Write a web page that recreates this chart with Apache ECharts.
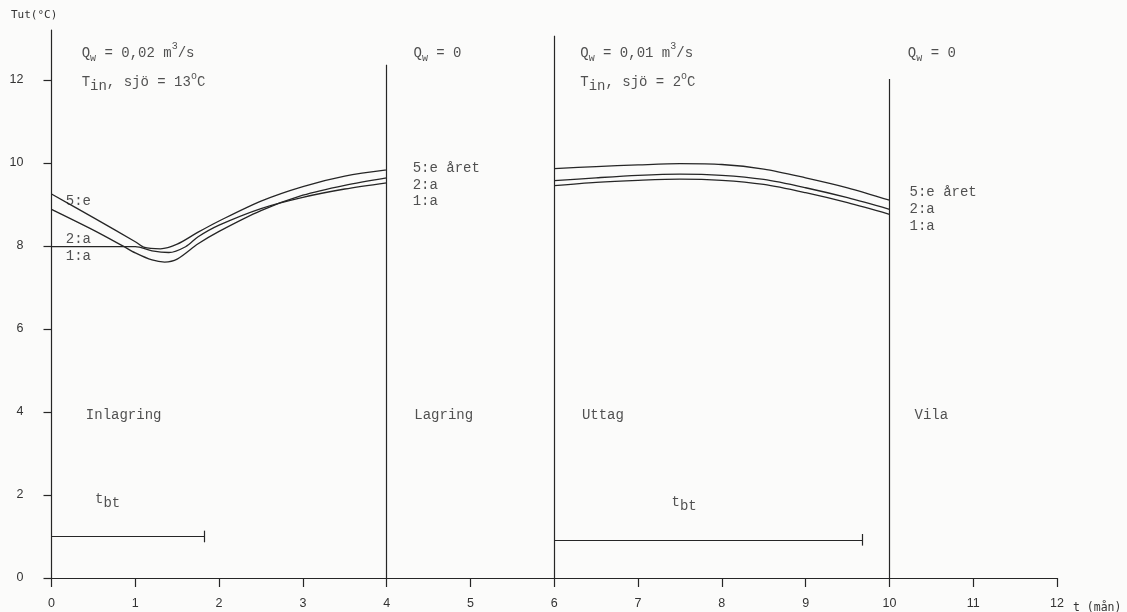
<!DOCTYPE html>
<html>
<head>
<meta charset="utf-8">
<script src="https://cdn.jsdelivr.net/npm/echarts@6/dist/echarts.min.js"></script>
<style>
  html, body { margin: 0; padding: 0; background: #fbfbfa; }
  #chart { width: 1127px; height: 612px; }
</style>
</head>
<body>
<div id="chart"></div>
<script>
// ticks
const xTicks = [0, 1, 2, 3, 4, 5, 6, 7, 8, 9, 10, 11, 12];
const yTicks = [0, 2, 4, 6, 8, 10, 12];

// Tut per year, [month, °C]; '-' breaks the line during storage (4-6)
const year5 = [[0, 9.25], [0.5, 8.68], [1.0, 8.1], [1.1, 7.97], [1.3, 7.93], [1.5, 8.04], [1.75, 8.33],
  [2.0, 8.6], [2.5, 9.08], [3.0, 9.43], [3.5, 9.68], [4.0, 9.83], [5, '-'],
  [6, 9.86], [6.5, 9.91], [7, 9.95], [7.5, 9.98], [8, 9.96], [8.5, 9.85], [9, 9.64], [9.5, 9.4], [10, 9.1]];
const year2 = [[0, 8.88], [0.5, 8.38], [0.85, 8.0], [1.0, 7.83], [1.2, 7.66], [1.35, 7.61], [1.5, 7.68],
  [1.75, 8.05], [2.0, 8.35], [2.5, 8.85], [3.0, 9.22], [3.5, 9.46], [4.0, 9.64], [5, '-'],
  [6, 9.57], [6.5, 9.64], [7, 9.7], [7.5, 9.73], [8, 9.7], [8.5, 9.6], [9, 9.4], [9.5, 9.16], [10, 8.88]];
const year1 = [[0, 7.98], [0.5, 7.98], [1.0, 7.98], [1.2, 7.88], [1.4, 7.84], [1.6, 7.98], [1.75, 8.22],
  [2.0, 8.5], [2.5, 8.9], [3.0, 9.17], [3.5, 9.37], [4.0, 9.52], [5, '-'],
  [6, 9.45], [6.5, 9.53], [7, 9.58], [7.5, 9.61], [8, 9.58], [8.5, 9.48], [9, 9.28], [9.5, 9.04], [10, 8.76]];

// phase boundaries: [month, top of line]
const phaseLines = [[4, 12.36], [6, 13.06], [10, 12.02]];
// t_bt bars: [from, to, level]
const tbtBars = [[0, 1.82, 1.0], [6, 9.68, 0.92]];

// text notes: [month, °C, rich text]
const notes = [
  [0.36, 12.65, '{t|Q}{sub|w}{t| = 0,02 m}{sup|3}{t|/s}'],
  [0.36, 11.95, '{t|T}{sb|in}{t|, sjö = 13}{sup|o}{t|C}'],
  [4.32, 12.65, '{t|Q}{sub|w}{t| = 0}'],
  [6.31, 12.65, '{t|Q}{sub|w}{t| = 0,01 m}{sup|3}{t|/s}'],
  [6.31, 11.95, '{t|T}{sb|in}{t|, sjö = 2}{sup|o}{t|C}'],
  [10.22, 12.65, '{t|Q}{sub|w}{t| = 0}'],
  [0.17, 9.08, '{t|5:e}'],
  [0.17, 8.16, '{t|2:a}'],
  [0.17, 7.76, '{t|1:a}'],
  [4.31, 9.88, '{t|5:e året}'],
  [4.31, 9.47, '{t|2:a}'],
  [4.31, 9.07, '{t|1:a}'],
  [10.24, 9.29, '{t|5:e året}'],
  [10.24, 8.88, '{t|2:a}'],
  [10.24, 8.46, '{t|1:a}'],
  [0.41, 3.93, '{t|Inlagring}'],
  [4.33, 3.93, '{t|Lagring}'],
  [6.33, 3.93, '{t|Uttag}'],
  [10.3, 3.93, '{t|Vila}'],
  [0.52, 1.9, '{t|t}{sb|bt}'],
  [7.4, 1.83, '{t|t}{sb|bt}']
];

const ink = '#262626';
const textInk = '#262626';
const mono = 'Liberation Mono';

const richStyles = {
  t: { fontFamily: mono, fontSize: 14, color: textInk, lineHeight: 22 },
  sb: { fontFamily: mono, fontSize: 14, color: textInk, lineHeight: 17, verticalAlign: 'bottom' },
  sub: { fontFamily: mono, fontSize: 10, color: textInk, lineHeight: 13, verticalAlign: 'bottom' },
  sup: { fontFamily: mono, fontSize: 10, color: textInk, lineHeight: 12, verticalAlign: 'top' }
};

function curve(name, data) {
  return {
    name: name,
    type: 'line',
    data: data,
    smooth: 0.3,
    symbol: 'none',
    silent: true,
    connectNulls: false,
    lineStyle: { color: ink, width: 1.3 }
  };
}

// vertical phase lines + t_bt bars with end ticks
const guideLines = [];
phaseLines.forEach(p => guideLines.push([{ coord: [p[0], 0] }, { coord: [p[0], p[1]] }]));
tbtBars.forEach(b => {
  guideLines.push([{ coord: [b[0], b[2]] }, { coord: [b[1], b[2]] }]);
  guideLines.push([{ coord: [b[1], b[2] - 0.14] }, { coord: [b[1], b[2] + 0.14] }]);
});

const option = {
  backgroundColor: '#fbfbfa',
  animation: false,
  title: [
    { text: 'Tut(°C)', left: 6, top: 5, textStyle: { fontFamily: 'DejaVu Sans Mono', fontSize: 11, fontWeight: 'normal', color: '#333' } },
    { text: 't (mån)', left: 1068, top: 597, textStyle: { fontFamily: 'DejaVu Sans Mono', fontSize: 11.5, fontWeight: 'normal', color: '#333' } }
  ],
  grid: { left: 51.5, right: 70, top: 30, bottom: 34 },
  xAxis: {
    type: 'value',
    min: 0,
    max: 12,
    interval: 1,
    splitLine: { show: false },
    axisLine: { lineStyle: { color: ink, width: 1.2 } },
    axisTick: { length: 9, lineStyle: { color: ink, width: 1.2 } },
    axisLabel: { margin: 19, fontFamily: 'Liberation Sans', fontSize: 12.5, color: '#333', customValues: xTicks }
  },
  yAxis: {
    type: 'value',
    min: 0,
    max: 13.2,
    splitLine: { show: false },
    axisLine: { show: true, lineStyle: { color: ink, width: 1.2 } },
    axisTick: { show: true, length: 8, customValues: yTicks, lineStyle: { color: ink, width: 1.2 } },
    axisLabel: { margin: 28, fontFamily: 'Liberation Sans', fontSize: 12.5, color: '#333', customValues: yTicks }
  },
  series: [
    curve('5:e', year5),
    curve('2:a', year2),
    curve('1:a', year1),
    {
      name: 'guides',
      type: 'line',
      data: [],
      silent: true,
      markLine: {
        silent: true,
        symbol: ['none', 'none'],
        label: { show: false },
        lineStyle: { color: ink, width: 1.2, type: 'solid' },
        emphasis: { disabled: true },
        data: guideLines
      }
    },
    {
      name: 'notes',
      type: 'scatter',
      silent: true,
      symbolSize: 0,
      data: notes.map(n => ({ value: [n[0], n[1]], text: n[2] })),
      label: {
        show: true,
        position: 'right',
        distance: 0,
        formatter: p => p.data.text,
        rich: richStyles
      }
    }
  ]
};

const chart = echarts.init(document.getElementById('chart'), null, { renderer: 'canvas' });
chart.setOption(option);
</script>
</body>
</html>
